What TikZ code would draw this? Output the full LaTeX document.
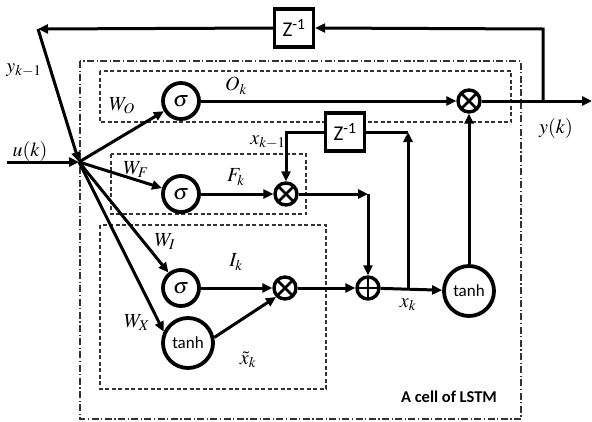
\documentclass[tikz,border=0pt]{standalone}
\usepackage{mathptmx}
\usepackage{fontspec}
\newfontfamily\carl{Carlito}
\usetikzlibrary{arrows.meta}
\begin{document}
\begin{tikzpicture}[x=1pt,y=-1pt,
  conn/.style={line width=3pt},
  arr/.style={conn,-{Triangle[length=10pt,width=9pt]}},
  gate/.style={circle,draw,fill=white,line width=3.8pt,minimum size=36pt,inner sep=0pt,font=\fontsize{22}{22}\selectfont},
  bigc/.style={circle,draw,fill=white,line width=3.8pt,minimum size=50pt,inner sep=0pt,font=\carl\fontsize{17}{17}\selectfont},
  op/.style={circle,draw,fill=white,line width=3.4pt,minimum size=22pt,inner sep=0pt},
  mult/.style={op,path picture={\draw[line width=2.8pt] (path picture bounding box.north west) -- (path picture bounding box.south east) (path picture bounding box.north east) -- (path picture bounding box.south west);}},
  plus/.style={op,path picture={\draw[line width=2.2pt] (path picture bounding box.north) -- (path picture bounding box.south) (path picture bounding box.west) -- (path picture bounding box.east);}},
  zbox/.style={draw,fill=white,line width=3.4pt,minimum width=39pt,minimum height=38pt,inner sep=0pt,font=\carl\fontsize{21}{21}\selectfont},
  lab/.style={font=\fontsize{20}{20}\selectfont,inner sep=0pt},
  dbox/.style={draw,black!80,line width=1.1pt,dash pattern=on 4pt off 2.5pt},
  ddbox/.style={draw,black!80,line width=1.1pt,dash pattern=on 7pt off 2.5pt on 1.2pt off 2.5pt}]
\useasboundingbox (0,0) rectangle (592,421);
% boxes
\draw[ddbox] (80,61) rectangle (521,419);
\draw[dbox] (100,71) rectangle (511,122);
\draw[dbox] (111,154) rectangle (306,214);
\draw[dbox] (100,225) rectangle (326,389);
% coordinates
\coordinate (hub) at (79,162);
\coordinate (uin) at (7,162);
\coordinate (fbtip) at (38,29);
\coordinate (fbr) at (543,29);
\coordinate (ytap) at (543,101);
\coordinate (yout) at (592,101);
\coordinate (zl) at (286,132);
\coordinate (zr) at (408,132);
\coordinate (fc) at (368,194);
\coordinate (xj) at (408,288);
% nodes
\node[zbox] (z1) at (294,28) {Z\textsuperscript{-1}};
\node[gate] (sO) at (181,101) {$\sigma$};
\node[mult] (mO) at (469,101) {};
\node[gate] (sF) at (181,194) {$\sigma$};
\node[mult] (mF) at (286,194) {};
\node[zbox] (z2) at (345,132) {Z\textsuperscript{-1}};
\node[gate] (sI) at (181,288) {$\sigma$};
\node[mult] (mI) at (285,288) {};
\node[plus] (pl) at (368,288) {};
\node[bigc] (tB) at (469,291) {tanh};
\node[bigc] (tS) at (188,343) {tanh};
% connectors
\draw[arr] (uin) -- (hub);
\draw[arr] (ytap) -- (fbr) -- (z1.east);
\draw[arr] (z1.west) -- (fbtip);
\draw[arr] (fbtip) -- (hub);
\draw[arr] (hub) -- (sO);
\draw[arr] (hub) -- (sF);
\draw[arr] (hub) -- (sI);
\draw[arr] (hub) -- (tS.155);
\draw[arr] (sO) -- (mO);
\draw[arr] (sF) -- (mF);
\draw[arr] (sI) -- (mI);
\draw[arr] (tS.12) -- (mI.225);
\draw[arr] (mF) -- (fc);
\draw[arr] (fc) -- (pl);
\draw[arr] (mI) -- (pl);
\draw[arr] (pl) -- (tB);
\draw[arr] (xj) -- (zr);
\draw[conn] (zr) -- (z2.east);
\draw[arr] (z2.west) -- (zl) -- (mF);
\draw[arr] (tB) -- (mO);
\draw[arr] (mO) -- (yout);
% labels
\node[lab] (lyk1) at (24,70) {$y_{k-1}$};
\node[lab] (luk) at (30,151) {$u(k)$};
\node[lab] (lWO) at (122,106) {$W_O$};
\node[lab] (lOk) at (236,86) {$O_k$};
\node[lab] (lWF) at (136,170) {$W_F$};
\node[lab] (lFk) at (236,177) {$F_k$};
\node[lab] (lxk1) at (268,142) {$x_{k-1}$};
\node[lab] (lWI) at (165,242) {$W_I$};
\node[lab] (lIk) at (236,262) {$I_k$};
\node[lab] (lWX) at (137,323) {$W_X$};
\node[lab] (lxt) at (248,360) {$\tilde{x}_k$};
\node[lab] (lxk) at (408,305) {$x_k$};
\node[lab] (lyk) at (556,128) {$y(k)$};
\node[font=\carl\bfseries\fontsize{16.5}{16.5}\selectfont] (cell) at (449,397) {A cell of LSTM};
\end{tikzpicture}
\end{document}
